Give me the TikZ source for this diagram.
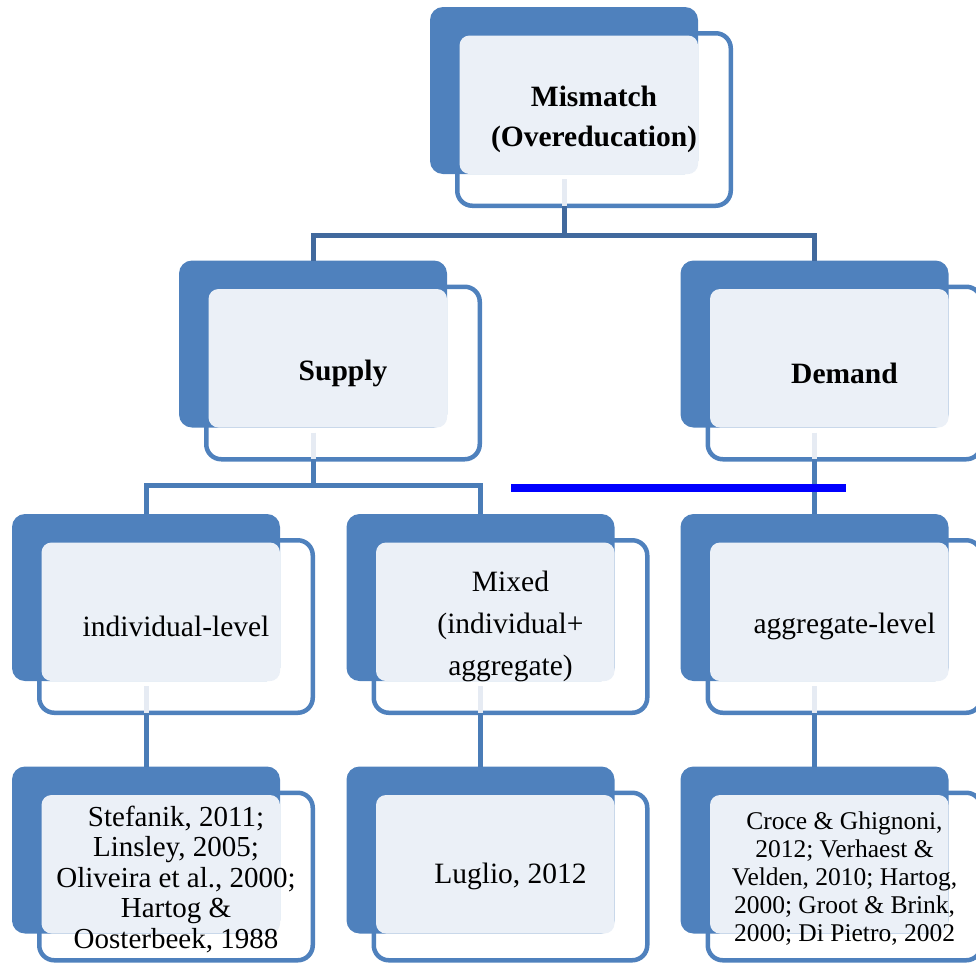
\documentclass[tikz,border=0pt]{standalone}
\usepackage{fontspec}
\setmainfont{Liberation Serif}
\definecolor{accent}{HTML}{4F81BD}
\definecolor{paneltint}{HTML}{EBF0F7}
\definecolor{stubtint}{HTML}{E6EBF3}
\definecolor{linkdark}{HTML}{41699D}
\definecolor{linkmid}{HTML}{4A7CB7}
\definecolor{markblue}{HTML}{0000FF}

\tikzset{
  backbox/.style={rectangle, rounded corners=13pt, fill=accent,
    minimum width=268pt, minimum height=167pt, inner sep=0pt, outer sep=0pt},
  frontbox/.style={rectangle, rounded corners=15pt, draw=accent, line width=4.5pt,
    fill=white, minimum width=273.5pt, inner sep=0pt, outer sep=0pt},
  panel/.style={fill=paneltint, rounded corners=10pt},
  stub/.style={draw=stubtint, line width=5pt},
  linkA/.style={draw=linkdark, line width=5pt},
  linkB/.style={draw=linkmid, line width=5pt},
  marker/.style={draw=markblue, line width=8pt},
  headtext/.style={align=center, inner sep=0pt, font=\fontsize{29.5}{40}\selectfont\bfseries},
  plaintext/.style={align=center, inner sep=0pt, font=\fontsize{29.5}{36}\selectfont},
  mixtext/.style={align=center, inner sep=0pt, font=\fontsize{29.5}{42}\selectfont},
  reftext/.style={align=center, inner sep=0pt, font=\fontsize{29}{30.5}\selectfont},
  smallreftext/.style={align=center, inner sep=0pt, font=\fontsize{25.5}{27.8}\selectfont},
}

% #1 name, #2/#3 centre of the filled back card, #4 outer height of the outlined card
\newcommand\tierbox[4]{%
  \node[frontbox, minimum height={(#4-4.5)*1pt}] (#1F) at ({#2+30},{#3-59.5+#4/2}) {};
  \node[backbox] (#1B) at (#2,#3) {};
  \fill[panel] ([xshift=2.25pt,yshift=-2.25pt]#1F.north west) rectangle (#1B.south east);
}

\begin{document}
\begin{tikzpicture}[x=1pt,y=-1pt]
\useasboundingbox (0,0) rectangle (976,967);
\clip (0,0) rectangle (976,967);

% cards
\tierbox{root}{564}{90.5}{177}
\tierbox{sup}{313}{344}{177}
\tierbox{dem}{814.5}{344}{177}
\tierbox{ind}{146}{597.5}{177}
\tierbox{mix}{480.5}{597.5}{177}
\tierbox{agg}{814.5}{597.5}{177}
\tierbox{indref}{146}{850}{172}
\tierbox{mixref}{480.5}{850}{172}
\tierbox{aggref}{814.5}{850}{172}

% pale stubs under the cards that have children
\foreach \n in {root,sup,dem,ind,mix,agg}
  \draw[stub] ([yshift=-5pt]\n B.south) -- (\n B.south |- \n F.south);

% connectors
\coordinate (rootJ) at (564,235);
\draw[linkA] (rootB.south |- rootF.south) -- (rootB.south |- rootJ);
\draw[linkA] (supB.north) |- (rootJ) -| (demB.north);

\coordinate (supJ) at (313,485);
\draw[linkB] (supB.south |- supF.south) -- (supB.south |- supJ);
\draw[linkB] (indB.north) |- (supJ) -| (mixB.north);
\draw[linkB] (demB.south |- demF.south) -- (aggB.north);

\draw[linkB] (indB.south |- indF.south) -- (indrefB.north);
\draw[linkB] (mixB.south |- mixF.south) -- (mixrefB.north);
\draw[linkB] (aggB.south |- aggF.south) -- (aggrefB.north);

% blue marker line
\coordinate (markL) at (511,488);
\coordinate (markR) at (846,488);
\draw[marker] (markL) -- (markR);

% labels
\node[headtext] (rootT) at (rootF.center) {Mismatch\\(Overeducation)};
\node[headtext] (supT) at (supF.center) {Supply};
\node[headtext] (demT) at (demF.center) {Demand};
\node[plaintext] (indT) at (indF.center) {individual-level};
\node[mixtext] (mixT) at (mixF.center) {Mixed\\(individual+\\aggregate)};
\node[plaintext] (aggT) at (aggF.center) {aggregate-level};
\node[reftext] (indrefT) at ([yshift=-3pt]indrefF.center) {Stefanik, 2011;\\Linsley, 2005;\\Oliveira et al., 2000;\\Hartog \&\\Oosterbeek, 1988};
\node[plaintext] (mixrefT) at (mixrefF.center) {Luglio, 2012};
\node[smallreftext] (aggrefT) at ([yshift=-2pt]aggrefF.center) {Croce \& Ghignoni,\\2012; Verhaest \&\\Velden, 2010; Hartog,\\2000; Groot \& Brink,\\2000; Di Pietro, 2002};
\end{tikzpicture}
\end{document}
